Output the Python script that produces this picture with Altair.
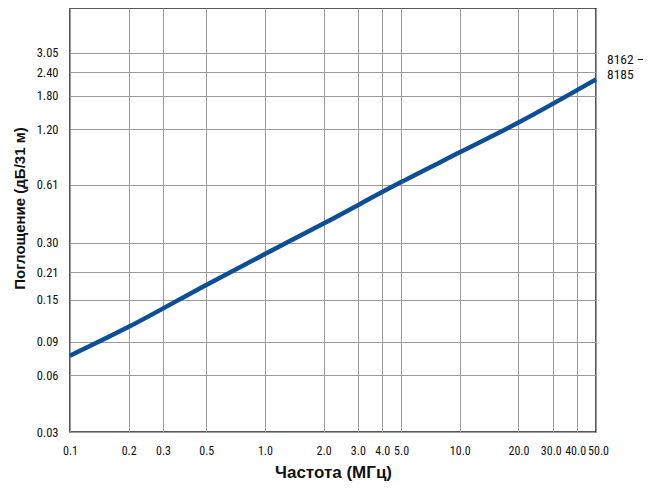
import altair as alt
import pandas as pd

# Data
freq_mhz = [0.1, 0.2, 0.5, 1.0, 2.0, 5.0, 10.0, 20.0, 50.0]
atten_db = [0.076, 0.108, 0.18, 0.262, 0.38, 0.63, 0.905, 1.3, 2.2]

x_ticks = [0.1, 0.2, 0.3, 0.5, 1.0, 2.0, 3.0, 4.0, 5.0, 10.0, 20.0, 30.0, 40.0, 50.0]
y_ticks = [0.03, 0.06, 0.09, 0.15, 0.21, 0.30, 0.61, 1.20, 1.80, 2.40, 3.05]

series_label = ["8162 –\n8185"]
label_x = [50.0]
label_y = [2.79]

df = pd.DataFrame({"f": freq_mhz, "a": atten_db})
lab = pd.DataFrame({"f": label_x, "a": label_y, "t": series_label})

NARROW = "Roboto Condensed, Liberation Sans Narrow, Liberation Sans, Arial"
BOLD = "Liberation Sans, Arial, Helvetica"

xscale = alt.Scale(type="log", domain=[0.1, 50.0], nice=False)
yscale = alt.Scale(type="log", domain=[0.03, 5.25], nice=False)

line = alt.Chart(df).mark_line(color="#0c4f97", strokeWidth=4.5, interpolate="monotone").encode(
    x=alt.X("f:Q", scale=xscale,
            axis=alt.Axis(values=x_ticks, format=".1f", title="Частота (МГц)",
                          labelPadding=13, titlePadding=8, labelFlush=False,
                          labelOverlap=False, titleFontSize=17, labelFontSize=12,
                          labelOffset=alt.ExprRef(
                              "datum.value == 30 ? -2 : (datum.value == 40 ? -2 : (datum.value == 50 ? 2 : 0))"))),
    y=alt.Y("a:Q", scale=yscale,
            axis=alt.Axis(values=y_ticks, format=".2f", title="Поглощение (дБ/31 м)",
                          labelPadding=12, titleX=-43, titleY=200, titleFontSize=15,
                          labelFontSize=12.5, labelFlush=False, labelOverlap=False)),
)

text = alt.Chart(lab).mark_text(
    align="left", baseline="middle", dx=11, fontSize=13.5, lineBreak="\n",
    lineHeight=15, font=NARROW, color="#111111"
).encode(
    x=alt.X("f:Q", scale=xscale),
    y=alt.Y("a:Q", scale=yscale),
    text="t:N",
)

chart = alt.layer(line, text).properties(
    width=526, height=424,
    autosize=alt.AutoSizeParams(type="none"),
    padding={"left": 62, "top": 0, "right": 47, "bottom": 52},
).configure_view(
    stroke="#222222", strokeWidth=1.5
).configure_axis(
    domain=False, ticks=False, grid=True, gridColor="#9a9a9a", gridWidth=1,
    labelFont=NARROW, labelColor="#111111",
    titleFont=BOLD, titleFontWeight="bold", titleColor="#111111",
)

chart.save("out.html", embed_options={"renderer": "svg", "actions": False})
